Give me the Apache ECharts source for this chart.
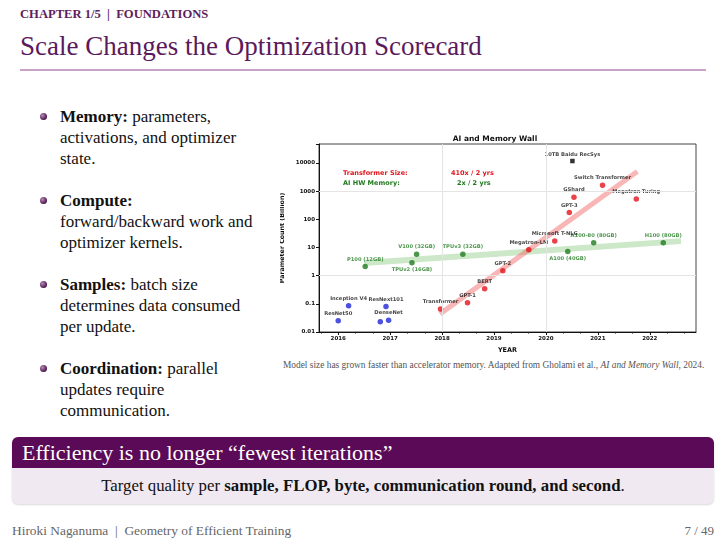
<!DOCTYPE html>
<html>
<head>
<meta charset="utf-8">
<title>Scale Changes the Optimization Scorecard</title>
<script src="https://cdn.jsdelivr.net/npm/echarts@6/dist/echarts.min.js"></script>
<style>
  html, body { margin: 0; padding: 0; background: #fff; }
  body { width: 726px; height: 544px; position: relative; overflow: hidden;
         font-family: "Liberation Serif", "DejaVu Serif", serif; color: #111; }
  .chapter { position: absolute; left: 20px; top: 7px; font-size: 12.6px; font-weight: bold;
             color: #5e1d5c; }
  .title { position: absolute; left: 20px; top: 31px; font-size: 27px; color: #5b1a5b; }
  .rule { position: absolute; left: 20px; top: 69px; width: 686px; height: 2px; background: #c8a3c6; }
  .bullets { position: absolute; left: 60px; top: 106px; font-size: 17px; line-height: 21px; }
  .item { position: relative; margin-bottom: 21px; }
  .item::before { content: ""; position: absolute; left: -20px; top: 7px; width: 7px; height: 7px;
                  border-radius: 50%; background: radial-gradient(circle at 35% 35%, #b58ab3, #4e1550 70%); }
  #chart { position: absolute; left: 280px; top: 125px; width: 430px; height: 230px; }
  .caption { position: absolute; left: 283px; top: 360px; font-size: 9.4px; color: #555; white-space: nowrap; }
  .box { position: absolute; left: 12px; top: 437px; width: 702px; height: 67px; border-radius: 6px;
         background: #f0e9f1; box-shadow: 0 1px 2px rgba(0,0,0,0.15); overflow: hidden; }
  .box-head { height: 31px; background: #5a0a56; color: #fff; font-size: 22px; line-height: 31px; padding-left: 10px; }
  .box-body { text-align: center; font-size: 16.8px; line-height: 36px; }
  .footer { position: absolute; left: 12px; top: 523px; font-size: 13.4px; color: #666; }
  .page { position: absolute; right: 12px; top: 523px; font-size: 13px; color: #666; }
</style>
</head>
<body>
<div class="chapter">CHAPTER 1/5 &nbsp;|&nbsp; FOUNDATIONS</div>
<div class="title">Scale Changes the Optimization Scorecard</div>
<div class="rule"></div>

<div class="bullets">
  <div class="item"><b>Memory:</b> parameters,<br>activations, and optimizer<br>state.</div>
  <div class="item"><b>Compute:</b><br>forward/backward work and<br>optimizer kernels.</div>
  <div class="item"><b>Samples:</b> batch size<br>determines data consumed<br>per update.</div>
  <div class="item"><b>Coordination:</b> parallel<br>updates require<br>communication.</div>
</div>

<div id="chart"></div>
<div class="caption">Model size has grown faster than accelerator memory. Adapted from Gholami et al., <i>AI and Memory Wall</i>, 2024.</div>

<div class="box">
  <div class="box-head">Efficiency is no longer “fewest iterations”</div>
  <div class="box-body">Target quality per <b>sample, FLOP, byte, communication round, and second</b>.</div>
</div>

<div class="footer">Hiroki Naganuma &nbsp;|&nbsp; Geometry of Efficient Training</div>
<div class="page">7 / 49</div>

<script>
// transformer models (red)
const modelNames = ['Transformer', 'GPT-1', 'BERT', 'GPT-2', 'Megatron-LM', 'Microsoft T-NLG',
                    'GPT-3', 'GShard', 'Switch Transformer', 'Megatron-Turing'];
const modelYears = [2017.97, 2018.49, 2018.82, 2019.17, 2019.67, 2020.17, 2020.45, 2020.54, 2021.09, 2021.74];
const modelParams = [0.065, 0.11, 0.34, 1.5, 8.3, 17, 175, 600, 1600, 530];

// vision models (blue)
const cnnNames = ['ResNet50', 'Inception V4', 'ResNext101', '', 'DenseNet'];
const cnnYears = [2016.0, 2016.2, 2016.92, 2016.81, 2016.97];
const cnnParams = [0.025, 0.085, 0.08, 0.023, 0.026];

// accelerator memory (green)
const hwNames = ['P100 (12GB)', 'TPUv2 (16GB)', 'V100 (32GB)', 'TPUv3 (32GB)',
                 'A100 (40GB)', 'A100-80 (80GB)', 'H100 (80GB)'];
const hwYears = [2016.52, 2017.42, 2017.51, 2018.40, 2020.42, 2020.92, 2022.26];
const hwValues = [2.1, 2.85, 5.8, 5.8, 7.2, 14.7, 14.7];

// recommender
const recNames = ['10TB Baidu RecSys'];
const recYears = [2020.51];
const recValues = [11700];

// trend fits (end points)
const modelTrendYears = [2017.96, 2021.76];
const modelTrendValues = [0.044, 5000];
const hwTrendYears = [2016.5, 2022.6];
const hwTrendValues = [2.8, 16.8];

const xTickYears = [2016, 2017, 2018, 2019, 2020, 2021, 2022];
const yTickLabels = ['0.01', '0.1', '1', '10', '100', '1000', '10000'];
const gridYears = [2018, 2020];
const gridValues = [1, 1000];

const xMinor = [];
for (let y = 2015; y <= 2022; y++) { xMinor.push(y + 1 / 3, y + 2 / 3); }

const zip = (xs, ys, names) => xs.map((x, i) => ({ value: [x, ys[i]], name: names ? names[i] : '' }));
const labelBelow = ['TPUv2 (16GB)', 'A100 (40GB)'];

const ff = 'DejaVu Sans';
const lbl = (color) => ({ show: true, formatter: '{b}', position: 'top', distance: 2,
                          fontSize: 5.2, fontWeight: 'bold', fontFamily: ff, color: color });

const chart = echarts.init(document.getElementById('chart'));
chart.setOption({
  animation: false,
  grid: { left: 39, top: 19, right: 14, bottom: 23, show: true, borderColor: '#444', borderWidth: 1,
          outerBoundsMode: 'none' },
  graphic: [
    { type: 'text', left: 'center', top: 10, style: { text: 'AI and Memory Wall', font: 'bold 7.5px "DejaVu Sans"', fill: '#111' } },
    { type: 'text', left: 63, top: 45, style: { text: 'Transformer Size:', font: 'bold 6.5px "DejaVu Sans"', fill: '#e0141c' } },
    { type: 'text', left: 63, top: 55, style: { text: 'AI HW Memory:', font: 'bold 6.5px "DejaVu Sans"', fill: '#1f7a1f' } },
    { type: 'text', left: 171, top: 45, style: { text: '410x / 2 yrs', font: 'bold 6.5px "DejaVu Sans"', fill: '#e0141c' } },
    { type: 'text', left: 177, top: 55, style: { text: '2x / 2 yrs', font: 'bold 6.5px "DejaVu Sans"', fill: '#1f7a1f' } }
  ],
  xAxis: [{
    type: 'value', min: 2015.63, max: 2022.89,
    name: 'YEAR', nameLocation: 'middle', nameGap: 13,
    nameTextStyle: { fontSize: 6.5, fontWeight: 'bold', fontFamily: ff, color: '#111' },
    axisLine: { lineStyle: { color: '#111' } },
    axisTick: { customValues: xTickYears, length: 3, lineStyle: { color: '#111' } },
    axisLabel: { customValues: xTickYears, formatter: (v) => String(Math.round(v)),
                 fontSize: 5.5, fontWeight: 'bold', fontFamily: ff, color: '#111', margin: 4 },
    splitLine: { show: false }
  }, {
    type: 'value', min: 2015.63, max: 2022.89, position: 'bottom',
    axisLine: { show: false },
    axisTick: { customValues: xMinor, length: 1.5, lineStyle: { color: '#111' } },
    axisLabel: { show: false },
    splitLine: { show: false }
  }],
  yAxis: {
    type: 'log', logBase: 10, min: 0.01, max: 47000, interval: 1,
    name: 'Parameter Count (Billion)', nameLocation: 'middle', nameGap: 26,
    nameTextStyle: { fontSize: 6.3, fontWeight: 'bold', fontFamily: ff, color: '#111' },
    axisLine: { show: true, lineStyle: { color: '#111' } },
    axisTick: { show: true, length: 3, lineStyle: { color: '#111' } },
    axisLabel: {
      fontSize: 5.5, fontWeight: 'bold', fontFamily: ff, color: '#111', margin: 4,
      formatter: (v) => {
        const e = Math.log10(v);
        const k = Math.round(e);
        if (Math.abs(e - k) > 1e-6) return '';
        return yTickLabels[k + 2] || '';
      }
    },
    splitLine: { show: false }
  },
  series: [
    {
      type: 'line', data: zip(hwTrendYears, hwTrendValues), symbol: 'none', silent: true, z: 1,
      lineStyle: { color: 'rgba(130,195,120,0.4)', width: 6 },
      markLine: {
        silent: true, symbol: 'none', label: { show: false },
        lineStyle: { color: '#e4e4e4', width: 1, type: 'solid' },
        data: gridYears.map(y => ({ xAxis: y })).concat(gridValues.map(v => ({ yAxis: v })))
      }
    },
    {
      type: 'line', data: zip(modelTrendYears, modelTrendValues), symbol: 'none', silent: true, z: 2,
      lineStyle: { color: 'rgba(242,110,110,0.5)', width: 5 }
    },
    {
      type: 'scatter', data: zip(cnnYears, cnnParams, cnnNames), symbolSize: 5.5, silent: true, z: 3,
      itemStyle: { color: '#1f26d6' }, label: lbl('#111')
    },
    {
      type: 'scatter', data: zip(hwYears, hwValues, hwNames).map(d => labelBelow.includes(d.name)
        ? Object.assign(d, { label: { position: 'bottom' } }) : d),
      symbolSize: 5.5, silent: true, z: 3,
      itemStyle: { color: '#1f7a1f' }, label: lbl('#1f7a1f')
    },
    {
      type: 'scatter', data: zip(modelYears, modelParams, modelNames), symbolSize: 5.5, silent: true, z: 4,
      itemStyle: { color: '#e3131b' }, label: lbl('#111')
    },
    {
      type: 'scatter', data: zip(recYears, recValues, recNames), symbol: 'rect', symbolSize: 4.5, silent: true, z: 4,
      itemStyle: { color: '#000' }, label: lbl('#111')
    }
  ]
});
</script>
</body>
</html>
